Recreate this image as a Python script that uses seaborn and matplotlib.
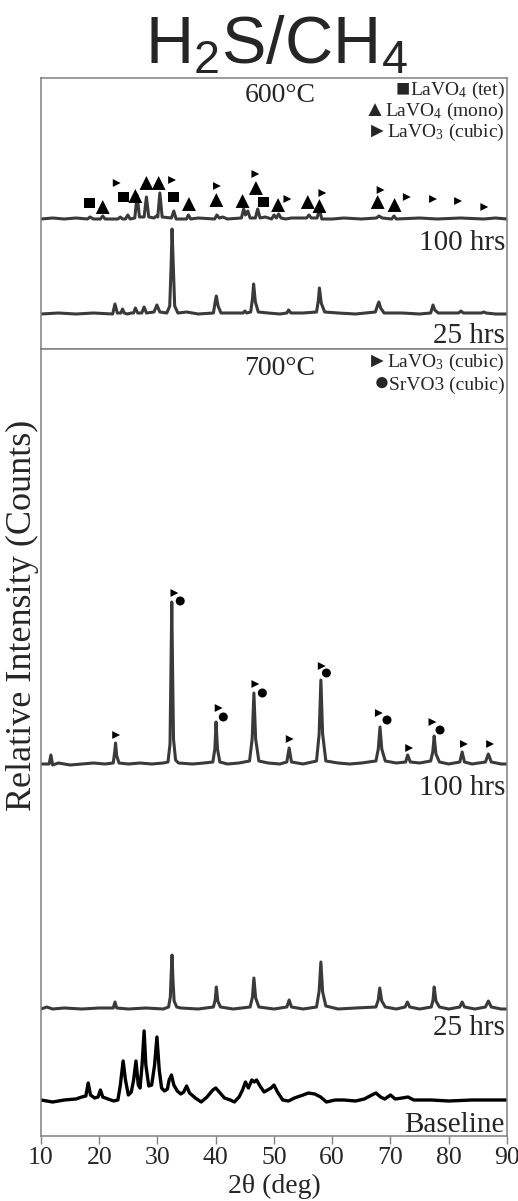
import numpy as np
import pandas as pd
import matplotlib
matplotlib.use('Agg')
import matplotlib.pyplot as plt
import seaborn as sns

W, H = 518, 1201

# (2theta in deg, counts above the pattern's own baseline)
xrd_600_100h = [
    (10, 0), (12, 1), (14, 0), (16, 1), (18.0, 0), (18.4, 2), (19, 0), (20.2, 0), (20.6, 3), (21.0, 0),
    (23.2, 0), (23.6, 2), (24.0, 0), (24.5, 0), (24.9, 4), (25.3, 0), (26.1, 1), (26.5, 24), (26.9, 2),
    (27.7, 2), (28.1, 22), (28.5, 2), (29.4, 1), (29.8, 3), (30.05, 2), (30.4, 26), (30.8, 2), (32.4, 1),
    (32.8, 8), (33.2, 0), (35.0, 0), (35.3, 4), (35.7, 0), (37, 1), (39.8, 0), (40.2, 4), (40.6, 1),
    (41.2, 2), (42, 0), (44.4, 1), (44.8, 10), (45.1, 4), (45.5, 8), (45.9, 1), (46.8, 1), (47.2, 10),
    (47.6, 1), (48.5, 2), (49.6, 0), (50.0, 4), (50.4, 1), (50.8, 5), (51.2, 1), (52, 0), (53, 1),
    (55.6, 1), (56.0, 4), (56.4, 1), (57.4, 1), (57.8, 10), (58.2, 0), (60, 0), (62, 1), (65, 0),
    (67.6, 1), (68.0, 3), (68.6, 1), (70.2, 0), (70.6, 3), (71.0, 0), (75, 1), (78, 0), (82, 1),
    (86, 0), (88, 1), (90, 0),
]
xrd_600_25h = [
    (10, 0), (13, 1), (16, 0), (19, 1), (22.3, 0), (22.7, 10), (23.1, 1), (23.7, 1), (24.0, 5), (24.3, 1),
    (24.8, 0), (25.5, 1), (25.9, 1), (26.2, 6), (26.6, 1), (27.3, 1), (27.7, 7), (28.1, 1), (29.4, 2),
    (29.9, 9), (30.4, 2), (31.6, 1), (32.1, 8), (32.35, 50), (32.5, 85), (32.7, 50), (32.95, 8),
    (33.5, 1), (35, 2), (37, 0), (39.6, 1), (39.9, 12), (40.1, 18), (40.4, 8), (40.9, 1), (42.5, 1),
    (44.7, 1), (45.0, 3), (45.3, 1), (46.0, 2), (46.3, 15), (46.5, 30), (46.8, 12), (47.3, 2), (49, 1),
    (51, 0), (52.2, 1), (52.5, 4), (52.9, 1), (55, 1), (57.3, 2), (57.6, 13), (57.8, 26), (58.1, 11),
    (58.7, 2), (61, 1), (64, 0), (67.4, 2), (67.8, 9), (68.0, 12), (68.3, 6), (68.9, 1), (72, 1),
    (75, 0), (76.9, 1), (77.3, 9), (77.6, 4), (78.2, 1), (81.7, 1), (82.1, 3), (82.5, 1), (85.6, 1),
    (86, 2), (86.4, 1), (88, 0), (90, 0),
]
xrd_700_100h = [
    (10, 0), (11.4, 0), (11.7, 9), (12.0, -1), (13, 1), (15, -1), (17, 0), (19, 1), (21, 0), (22.4, 1),
    (22.65, 12), (22.8, 21), (23.0, 8), (23.4, 1), (25, 0), (27, 1), (29, 0), (31, 1), (31.8, 2),
    (32.15, 20), (32.3, 90), (32.45, 162), (32.6, 90), (32.75, 25), (33.1, 4), (33.6, 1), (36, 0),
    (38, 1), (39.5, 2), (39.85, 15), (40.05, 42), (40.3, 15), (40.7, 2), (42, 0), (44, 1), (45.8, 3),
    (46.25, 25), (46.55, 71), (46.85, 25), (47.4, 3), (49, 1), (51, 0), (52.2, 2), (52.6, 16),
    (53.0, 2), (55, 0), (57.3, 3), (57.75, 30), (58.05, 84), (58.35, 30), (58.9, 3), (61, 1), (63, 0),
    (65, 1), (67.5, 3), (67.9, 15), (68.2, 37), (68.5, 15), (69.1, 3), (71, 1), (72.6, 2), (72.95, 9),
    (73.4, 2), (75, 1), (76.9, 3), (77.25, 12), (77.5, 28), (77.8, 10), (78.4, 2), (80, 0), (81.9, 2),
    (82.3, 12), (82.7, 2), (84, 0), (86.3, 2), (86.8, 10), (87.3, 2), (89, 0), (90, 0),
]
xrd_700_25h = [
    (10, 0), (11, 2), (12, 0), (14, 1), (17, 0), (20, 1), (22.4, 1), (22.7, 7), (23.0, 1), (25, 0),
    (28, 1), (31, 0), (31.9, 2), (32.2, 12), (32.35, 35), (32.5, 54), (32.65, 30), (32.85, 8),
    (33.3, 2), (34, 1), (37, 0), (39.6, 2), (39.9, 9), (40.1, 22), (40.35, 8), (40.8, 2), (43, 0),
    (45.9, 2), (46.3, 12), (46.55, 31), (46.85, 11), (47.4, 2), (50, 0), (52.2, 2), (52.6, 9),
    (53.0, 2), (55, 0), (57.3, 2), (57.75, 18), (58.05, 47), (58.35, 17), (58.9, 3), (61, 0), (64, 1),
    (67.5, 2), (67.9, 9), (68.15, 21), (68.5, 8), (69.1, 2), (71, 0), (72.5, 2), (72.9, 7), (73.3, 2),
    (75, 0), (77.0, 2), (77.3, 9), (77.5, 22), (77.8, 8), (78.4, 2), (80, 0), (81.9, 2), (82.3, 7),
    (82.7, 2), (84.5, 0), (86.3, 2), (86.8, 8), (87.3, 2), (89, 0), (90, 0),
]
xrd_baseline = [
    (10, 0), (12, -2), (14, 0), (16, 1), (17, 3), (17.7, 4), (18.1, 17), (18.5, 5), (19.2, 2), (19.8, 3),
    (20.2, 10), (20.6, 3), (21.5, 1), (22.5, -1), (23.2, 0), (23.6, 14), (24.1, 39), (24.5, 20),
    (25.0, 5), (25.5, 8), (25.9, 20), (26.3, 39), (26.7, 15), (27.0, 12), (27.35, 35), (27.7, 69),
    (28.0, 35), (28.5, 14), (29.0, 15), (29.5, 35), (29.9, 63), (30.3, 30), (30.7, 12), (31.2, 9),
    (31.7, 11), (32.0, 20), (32.4, 25), (32.8, 15), (33.4, 9), (34.0, 6), (34.5, 8), (35.0, 14),
    (35.5, 7), (36.5, 2), (37.5, -2), (38.5, 3), (39.5, 10), (40.0, 12), (40.6, 8), (41.5, 2),
    (42.5, 0), (43.2, -2), (44, 3), (44.6, 10), (45.1, 18), (45.6, 12), (46.2, 20), (46.6, 18),
    (47.0, 20), (47.6, 14), (48.3, 8), (48.9, 10), (49.5, 12), (50.0, 15), (50.6, 8), (51.5, 0),
    (52.5, -1), (53.5, 2), (55, 5), (55.9, 7), (57, 6), (58, 3), (59, -2), (60.5, 0), (62, 0),
    (64, -1), (65.5, 1), (66.8, 5), (67.5, 7), (68.3, 3), (69, 1), (70, 5), (70.8, 1), (72, 2),
    (73, 3), (74, 0), (77, 0), (80, -1), (84, 0), (87, 0), (90, 0),
]

# phase markers (2theta, height above the 100 hrs pattern)
tet_600_tth = [18.3, 24.1, 32.7, 48.2]
tet_600_h = [16, 22, 22, 17]
mono_600_tth = [20.6, 26.2, 28.1, 30.2, 35.4, 40.1, 44.6, 46.9, 50.7, 55.8, 57.8, 67.8, 70.7]
mono_600_h = [12, 23, 36, 36, 15, 19, 18, 31, 14, 17, 13, 17, 14]
cub_600_tth = [23.0, 32.5, 40.2, 46.8, 52.3, 58.3, 68.3, 72.8, 77.3, 81.6, 86.1]
cub_600_h = [36, 39, 33, 45, 20, 26, 29, 22, 20, 18, 12]
cub_700_tth = [22.9, 32.9, 40.5, 46.8, 52.7, 58.2, 68.0, 73.2, 77.2, 82.6, 87.1]
cub_700_h = [29, 171, 56, 80, 25, 98, 51, 16, 42, 20, 20]
sr_700_tth = [33.9, 41.3, 48.0, 59.0, 69.4, 78.5]
sr_700_h = [163, 47, 71, 91, 44, 34]

# legend rows: glyph, label, baseline pixel row
legend_600 = [('■', 'LaVO$_4$ (tet)', 95), ('▲', 'LaVO$_4$ (mono)', 116), ('►', 'LaVO$_3$ (cubic)', 137)]
legend_700 = [('►', 'LaVO$_3$ (cubic)', 367), ('●', 'SrVO3 (cubic)', 390)]

TRACE = '#3a3a3a'
SPINE = '#808080'


def px(x, y):
    return x / W, 1 - y / H


def draw_pattern(ax, pts, offset, color=TRACE, lw=2.2):
    df = pd.DataFrame(pts, columns=['tth', 'counts'])
    df['y'] = df['counts'] + offset
    sns.lineplot(data=df, x='tth', y='y', ax=ax, color=color, lw=lw,
                 estimator=None, sort=False)


def draw_marks(ax, tth, h, offset, marker, s):
    sns.scatterplot(x=tth, y=np.array(h) + offset, ax=ax, marker=marker, s=s,
                    color='black', edgecolor='none', linewidth=0, zorder=5)


sns.set_theme(style='white')
plt.rcParams['font.family'] = ['Liberation Serif', 'DejaVu Serif']
plt.rcParams['mathtext.fontset'] = 'custom'
plt.rcParams['mathtext.rm'] = 'Liberation Serif'
plt.rcParams['mathtext.sf'] = 'Liberation Sans'
plt.rcParams['mathtext.default'] = 'regular'

fig = plt.figure(figsize=(W / 100, H / 100), dpi=100)
ax_top = fig.add_axes([41 / W, 1 - 349 / H, 466 / W, 271 / H])
ax_bot = fig.add_axes([41 / W, 1 - 1136 / H, 466 / W, 787 / H])

# 600 C panel
draw_pattern(ax_top, xrd_600_100h, 130)
draw_pattern(ax_top, xrd_600_25h, 35)
draw_marks(ax_top, tet_600_tth, tet_600_h, 130, 's', 60)
draw_marks(ax_top, mono_600_tth, mono_600_h, 130, '^', 100)
draw_marks(ax_top, cub_600_tth, cub_600_h, 130, '>', 32)
ax_top.set_ylim(0, 271)

# 700 C panel
draw_pattern(ax_bot, xrd_700_100h, 372)
draw_pattern(ax_bot, xrd_700_25h, 127)
draw_pattern(ax_bot, xrd_baseline, 36, color='black', lw=2.4)
draw_marks(ax_bot, cub_700_tth, cub_700_h, 372, '>', 32)
draw_marks(ax_bot, sr_700_tth, sr_700_h, 372, 'o', 42)
ax_bot.set_ylim(0, 787)

for ax in (ax_top, ax_bot):
    ax.set_xlim(10, 90)
    ax.set_yticks([])
    ax.set_xlabel('')
    ax.set_ylabel('')
    for sp in ax.spines.values():
        sp.set_color(SPINE)
        sp.set_linewidth(1.1)
        sp.set_visible(True)

ax_top.set_xticks([])
ax_bot.set_xticks(range(10, 91, 10))
ax_bot.tick_params(axis='x', direction='out', length=6, width=1, color=SPINE,
                   labelsize=18.5, pad=2, bottom=True)

# labels
fig.text(*px(276, 64), r'H$_\mathsf{2}$S/CH$_\mathsf{4}$', family='Liberation Sans',
         fontsize=48, ha='center', va='baseline')
fig.text(*px(22, 615), 'Relative Intensity (Counts)', rotation=90, fontsize=26,
         ha='center', va='center')
fig.text(*px(274, 1193), '2θ (deg)', fontsize=20, ha='center', va='baseline')

fig.text(*px(280, 102), '600°C', fontsize=20, ha='center', va='baseline')
fig.text(*px(505, 250), '100 hrs', fontsize=21, ha='right', va='baseline')
fig.text(*px(505, 343), '25 hrs', fontsize=21, ha='right', va='baseline')

fig.text(*px(280, 375), '700°C', fontsize=20, ha='center', va='baseline')
fig.text(*px(505, 795), '100 hrs', fontsize=21, ha='right', va='baseline')
fig.text(*px(505, 1035), '25 hrs', fontsize=21, ha='right', va='baseline')
fig.text(*px(505, 1132), 'Baseline', fontsize=21, ha='right', va='baseline')

# phase keys: label first, then its glyph just left of it
rows = []
for glyph, label, y in legend_600 + legend_700:
    t = fig.text(*px(505, y), label, fontsize=14, ha='right', va='baseline')
    rows.append((glyph, t, y))
fig.canvas.draw()
renderer = fig.canvas.get_renderer()
for glyph, t, y in rows:
    x0 = t.get_window_extent(renderer).x0
    gsize = {'■': 17, '▲': 16, '►': 15, '●': 19}[glyph]
    fig.text(x0 / W, 1 - y / H, glyph, fontsize=gsize, ha='right', va='baseline',
             family=['Liberation Sans', 'DejaVu Sans'])

fig.savefig('out.png', dpi=100)
